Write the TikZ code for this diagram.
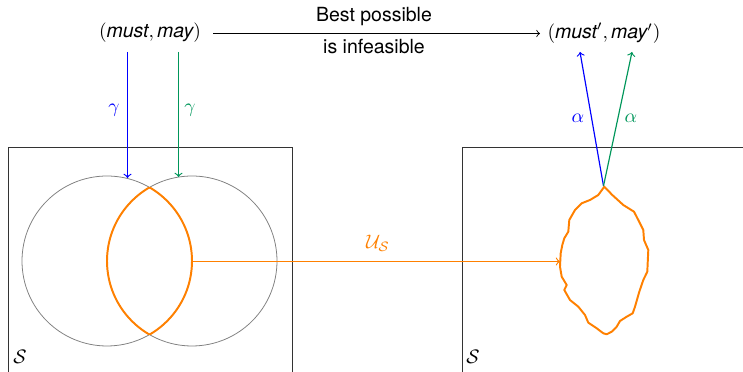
\documentclass[tikz,border=0pt]{standalone}
\usepackage{fontspec}
\setmainfont{TeX Gyre Heros}
\definecolor{myblue}{RGB}{0,0,255}
\definecolor{mygreen}{RGB}{0,150,90}
\definecolor{myorange}{RGB}{255,128,0}
\begin{document}
\begin{tikzpicture}[x=0.513pt,y=-0.513pt,
  lbl/.style={inner sep=1pt},
  conn/.style={->,line width=0.6pt},
  circ/.style={draw=gray,line width=0.4pt},
  boxline/.style={draw=black!80,line width=0.5pt},
  lens/.style={draw=myorange,line width=1pt}]
\useasboundingbox (0,0) rectangle (743,372);
\clip (0,0) rectangle (743,372);
% top row
\node[lbl] (mm) at (150,33) {$(\textit{must}, \textit{may})$};
\node[lbl] (mmp) at (604,33) {$(\textit{must}', \textit{may}')$};
\node[lbl] (best) at (374,17) {Best possible};
\node[lbl] (inf) at (374,47) {is infeasible};
\coordinate (ta) at (213,33.5);
\coordinate (tb) at (540,33.5);
\draw[conn,line width=0.45pt] (ta) -- (tb);
% boxes
\draw[boxline] (8.5,380) -- (8.5,147.5) -- (292.5,147.5) -- (292.5,380);
\draw[boxline] (462.5,380) -- (462.5,147.5) -- (760,147.5);
\node[lbl] (s1) at (20,357) {$\mathcal{S}$};
\node[lbl] (s2) at (473,357) {$\mathcal{S}$};
% circles
\coordinate (c1) at (107,261);
\coordinate (c2) at (192,261);
\draw[circ] (c1) circle[radius=43.6pt];
\draw[circ] (c2) circle[radius=43.6pt];
\begin{scope}
\clip (c1) circle[radius=43.6pt];
\draw[lens] (c2) circle[radius=43.6pt];
\end{scope}
\begin{scope}
\clip (c2) circle[radius=43.6pt];
\draw[lens] (c1) circle[radius=43.6pt];
\end{scope}
% gamma arrows
\coordinate (g1s) at (127.5,52);
\coordinate (g1e) at (127.5,178);
\coordinate (g2s) at (178.5,52);
\coordinate (g2e) at (178.5,177);
\draw[conn,draw=myblue] (g1s) -- (g1e);
\draw[conn,draw=mygreen] (g2s) -- (g2e);
\node[lbl,text=myblue] (gb) at (114,110) {$\gamma$};
\node[lbl,text=mygreen] (gg) at (190,110) {$\gamma$};
% U_S arrow
\coordinate (us) at (192,261.5);
\coordinate (ue) at (560,261.5);
\draw[conn,draw=myorange] (us) -- (ue);
\node[lbl,text=myorange] (ul) at (378,243) {$\mathcal{U}_{\mathcal{S}}$};
% blob
\draw[lens,line join=round] (604.3,186.7) -- (612.3,195) -- (623.3,205) -- (634,211.7) -- (638.3,220) -- (643.3,230) -- (644,240) -- (648.3,250) -- (647.3,271.7) -- (643.3,280) -- (639.3,291.7) -- (635,306.7) -- (632.7,313.3) -- (626.7,316.7) -- (620,321) -- (616.7,326.7) -- (611.7,331.7) -- (606.7,334.3) -- (603.3,333.3) -- (596.7,328.3) -- (588.3,322.7) -- (585,315) -- (578.3,306.7) -- (570,300) -- (564.3,290) -- (566.7,285) -- (561.7,276.7) -- (560,266.7) -- (560.7,253.3) -- (562.3,245) -- (564.3,238.3) -- (568.3,231.7) -- (569.3,220) -- (575,210) -- (581.7,203.3) -- (590,200) -- (598.3,195) -- cycle;
% alpha arrows
\coordinate (btop) at (603.5,186);
\coordinate (a1e) at (580,52);
\coordinate (a2e) at (632,52);
\draw[conn,draw=myblue] (btop) -- (a1e);
\draw[conn,draw=mygreen] (btop) -- (a2e);
\node[lbl,text=myblue] (ab) at (578,118) {$\alpha$};
\node[lbl,text=mygreen] (ag) at (631,118) {$\alpha$};
\end{tikzpicture}
\end{document}
